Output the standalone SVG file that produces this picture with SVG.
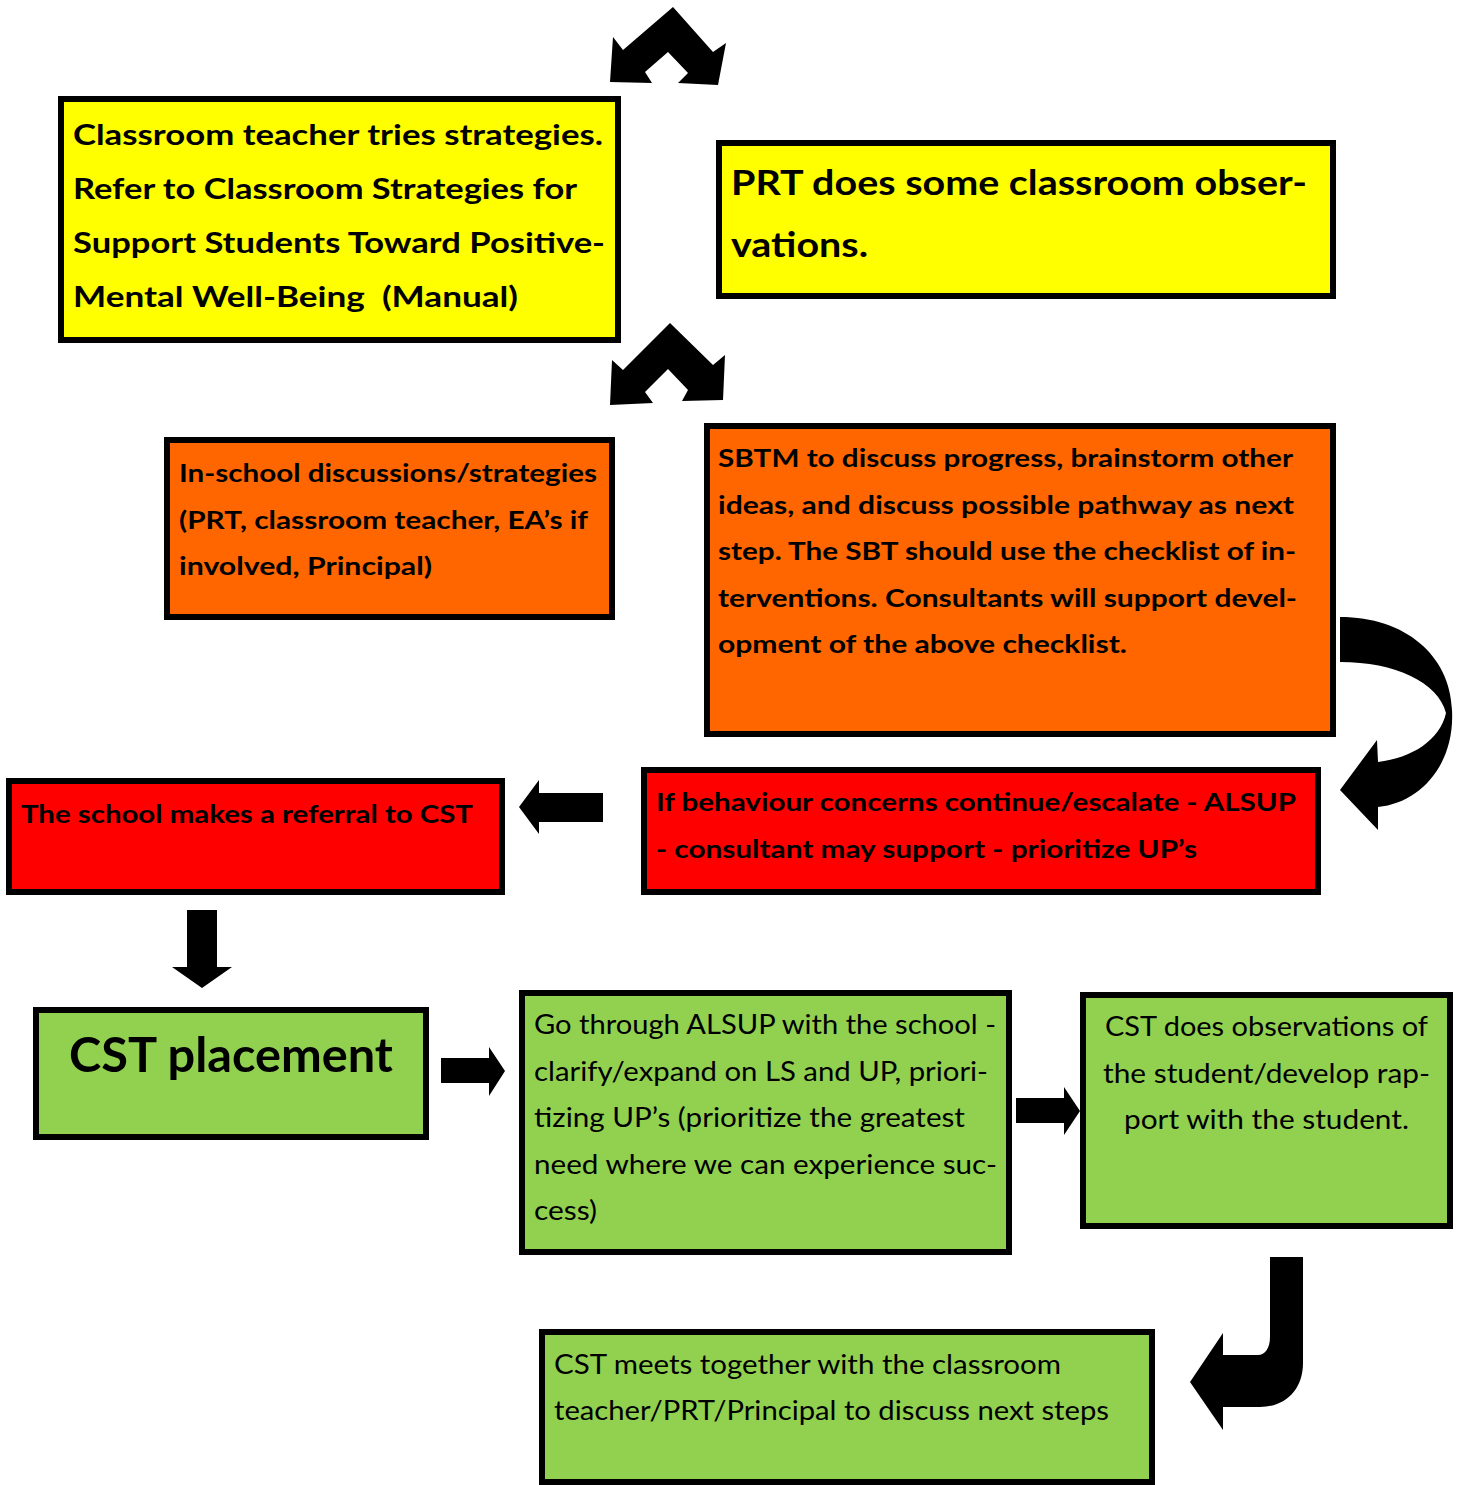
<svg xmlns="http://www.w3.org/2000/svg" width="1458" height="1485" viewBox="0 0 1458 1485">
<style>
.box{stroke:#000;stroke-width:6}
.y{fill:#FFFF00}.o{fill:#FF6600}.r{fill:#FF0000}.g{fill:#92D050}
text{font-family:Lato,"Liberation Sans",sans-serif;fill:#000}
.b{font-weight:bold}
.t29{font-size:29px}.t34{font-size:34px}.t25{font-size:25px}.t26{font-size:26px}.t48{font-size:48px}
.arr{fill:#000;stroke:none}
</style>
<rect width="1458" height="1485" fill="#fff"/>
<g id="connectors">
<path class="arr" d="M673,7 L713,52 L726,43 L718,85 L678,83 L688,73 L668,52 L645,72 L652,83 L610,82 L613,37 L623,50 Z"/>
<path class="arr" d="M670,323 L713,365 L725,355 L723,400 L682,401 L688,390 L668,369 L645,392 L653,403 L610,405 L612,360 L623,370 Z"/>
<path class="arr" d="M1340,617 C1405,617 1450,655 1452,710 C1455,765 1420,803 1378,807 L1378,830 L1340,790 L1377,740 L1378,762 C1412,758 1440,740 1446,713 C1438,682 1395,662 1340,662 Z"/>
<path class="arr" d="M603,793 L539,793 L539,780 L519,807 L539,834 L539,822 L603,822 Z"/>
<path class="arr" d="M187,910 L217,910 L217,967 L232,967 L202,988 L172,967 L187,967 Z"/>
<path class="arr" d="M441,1058 L489,1058 L489,1047 L505,1071 L489,1096 L489,1083 L441,1083 Z"/>
<path class="arr" d="M1016,1098 L1064,1098 L1064,1087 L1080,1111 L1064,1135 L1064,1123 L1016,1123 Z"/>
<path class="arr" d="M1270,1257 L1303,1257 L1303,1363 C1303,1390 1285,1407 1260,1407 L1223,1407 L1223,1430 L1190,1382 L1223,1333 L1223,1355 L1258,1355 C1265,1355 1270,1348 1270,1337 Z"/>
</g>
<g id="n1">
<rect class="box y" x="61" y="99" width="557" height="241"/>
<text class="b t29" x="73" y="145" textLength="530" lengthAdjust="spacingAndGlyphs">Classroom teacher tries strategies.</text>
<text class="b t29" x="73" y="199" textLength="504" lengthAdjust="spacingAndGlyphs">Refer to Classroom Strategies for</text>
<text class="b t29" x="73" y="253" textLength="532" lengthAdjust="spacingAndGlyphs">Support Students Toward Positive-</text>
<text class="b t29" x="73" y="307" textLength="445" lengthAdjust="spacingAndGlyphs" xml:space="preserve">Mental Well-Being  (Manual)</text>
</g>
<g id="n2">
<rect class="box y" x="719" y="143" width="614" height="153"/>
<text class="b t34" x="731" y="195" textLength="576" lengthAdjust="spacingAndGlyphs">PRT does some classroom obser-</text>
<text class="b t34" x="731" y="257" textLength="137" lengthAdjust="spacingAndGlyphs">vations.</text>
</g>
<g id="n3">
<rect class="box o" x="167" y="440" width="445" height="177"/>
<text class="b t25" x="179" y="482" textLength="418" lengthAdjust="spacingAndGlyphs">In-school discussions/strategies</text>
<text class="b t25" x="179" y="529" textLength="409" lengthAdjust="spacingAndGlyphs">(PRT, classroom teacher, EA’s if</text>
<text class="b t25" x="179" y="575" textLength="253" lengthAdjust="spacingAndGlyphs">involved, Principal)</text>
</g>
<g id="n4">
<rect class="box o" x="707" y="426" width="626" height="308"/>
<text class="b t25" x="718" y="467" textLength="575" lengthAdjust="spacingAndGlyphs">SBTM to discuss progress, brainstorm other</text>
<text class="b t25" x="718" y="514" textLength="576" lengthAdjust="spacingAndGlyphs">ideas, and discuss possible pathway as next</text>
<text class="b t25" x="718" y="560" textLength="578" lengthAdjust="spacingAndGlyphs">step. The SBT should use the checklist of in-</text>
<text class="b t25" x="718" y="607" textLength="579" lengthAdjust="spacingAndGlyphs">terventions. Consultants will support devel-</text>
<text class="b t25" x="718" y="653" textLength="409" lengthAdjust="spacingAndGlyphs">opment of the above checklist.</text>
</g>
<g id="n5">
<rect class="box r" x="644" y="770" width="674" height="122"/>
<text class="b t25" x="656" y="811" textLength="640" lengthAdjust="spacingAndGlyphs">If behaviour concerns continue/escalate - ALSUP</text>
<text class="b t25" x="656" y="858" textLength="541" lengthAdjust="spacingAndGlyphs">- consultant may support - prioritize UP’s</text>
</g>
<g id="n6">
<rect class="box r" x="9" y="781" width="493" height="111"/>
<text class="b t25" x="21" y="823" textLength="452" lengthAdjust="spacingAndGlyphs">The school makes a referral to CST</text>
</g>
<g id="n7">
<rect class="box g" x="36" y="1010" width="390" height="127"/>
<text class="b t48" x="69" y="1072" textLength="324" lengthAdjust="spacingAndGlyphs">CST placement</text>
</g>
<g id="n8">
<rect class="box g" x="522" y="993" width="487" height="259"/>
<text class="t26" x="534" y="1034" textLength="462" lengthAdjust="spacingAndGlyphs">Go through ALSUP with the school -</text>
<text class="t26" x="534" y="1081" textLength="454" lengthAdjust="spacingAndGlyphs">clarify/expand on LS and UP, priori-</text>
<text class="t26" x="534" y="1127" textLength="431" lengthAdjust="spacingAndGlyphs">tizing UP’s (prioritize the greatest</text>
<text class="t26" x="534" y="1174" textLength="463" lengthAdjust="spacingAndGlyphs">need where we can experience suc-</text>
<text class="t26" x="534" y="1220" textLength="63" lengthAdjust="spacingAndGlyphs">cess)</text>
</g>
<g id="n9">
<rect class="box g" x="1083" y="995" width="367" height="231"/>
<text class="t26" x="1105" y="1036" textLength="323" lengthAdjust="spacingAndGlyphs">CST does observations of</text>
<text class="t26" x="1103" y="1083" textLength="327" lengthAdjust="spacingAndGlyphs">the student/develop rap-</text>
<text class="t26" x="1124" y="1129" textLength="285" lengthAdjust="spacingAndGlyphs">port with the student.</text>
</g>
<g id="n10">
<rect class="box g" x="542" y="1332" width="610" height="150"/>
<text class="t26" x="554" y="1374" textLength="507" lengthAdjust="spacingAndGlyphs">CST meets together with the classroom</text>
<text class="t26" x="554" y="1420" textLength="555" lengthAdjust="spacingAndGlyphs">teacher/PRT/Principal to discuss next steps</text>
</g>
</svg>
